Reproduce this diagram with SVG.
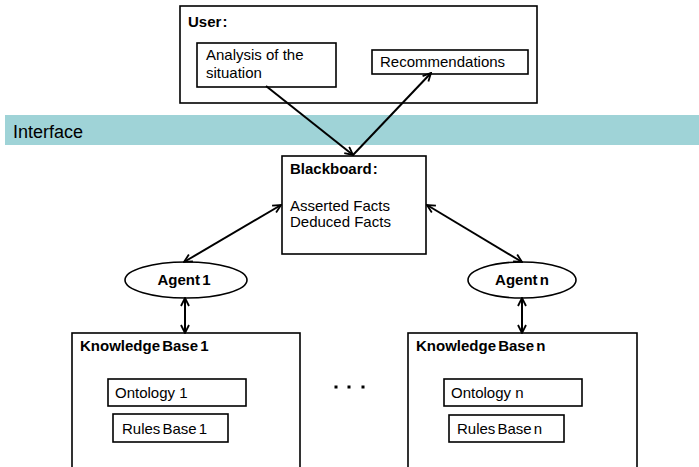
<svg xmlns="http://www.w3.org/2000/svg" width="699" height="467" viewBox="0 0 699 467">
<defs>
<marker id="ah" viewBox="0 0 10 10" refX="9" refY="5" markerWidth="10" markerHeight="10" markerUnits="userSpaceOnUse" orient="auto-start-reverse">
<path d="M1,1 L9,5 L1,9" fill="none" stroke="#000" stroke-width="1.8"/>
</marker>
<style>
.box{fill:#fff;stroke:#000;stroke-width:1.6}
.t{font-family:"Liberation Sans",Arial,sans-serif;font-size:15px;fill:#000}
.b{font-weight:bold;word-spacing:-2px}
.c{stroke:#000;stroke-width:2;fill:none}
</style>
</defs>
<rect width="699" height="467" fill="#fff"/>
<g id="interface">
<rect x="5" y="115" width="694" height="30" fill="#9fd3d7"/>
<text class="t" x="13" y="138" style="font-size:18px">Interface</text>
</g>
<g id="user">
<rect class="box" x="180" y="6" width="357" height="97"/>
<text class="t b" x="188" y="27" style="word-spacing:-3px">User :</text>
</g>
<g id="analysis">
<rect class="box" x="197" y="43" width="139" height="44"/>
<text class="t" x="206" y="60">Analysis of the</text>
<text class="t" x="206" y="78">situation</text>
</g>
<g id="recommendations">
<rect class="box" x="372" y="50" width="156" height="24"/>
<text class="t" x="380" y="67">Recommendations</text>
</g>
<g id="blackboard">
<rect class="box" x="282" y="156" width="144" height="98"/>
<text class="t b" x="290" y="174" style="word-spacing:-3px">Blackboard :</text>
<text class="t" x="290" y="211">Asserted Facts</text>
<text class="t" x="290" y="227">Deduced Facts</text>
</g>
<g id="agent1">
<ellipse class="box" cx="186" cy="280" rx="61" ry="18"/>
<text class="t b" x="184" y="285" text-anchor="middle">Agent 1</text>
</g>
<g id="agentn">
<ellipse class="box" cx="522" cy="280" rx="54" ry="18"/>
<text class="t b" x="522" y="285" text-anchor="middle">Agent n</text>
</g>
<g id="kb1">
<rect class="box" x="72" y="333" width="228" height="140"/>
<text class="t b" x="80" y="351">Knowledge Base 1</text>
</g>
<g id="ontology1">
<rect class="box" x="108" y="379" width="138" height="27"/>
<text class="t" x="115" y="398">Ontology 1</text>
</g>
<g id="rules1">
<rect class="box" x="113" y="414" width="115" height="28"/>
<text class="t" x="122" y="434" style="word-spacing:-2px">Rules Base 1</text>
</g>
<g id="kbn">
<rect class="box" x="408" y="333" width="229" height="140"/>
<text class="t b" x="416" y="351">Knowledge Base n</text>
</g>
<g id="ontologyn">
<rect class="box" x="444" y="379" width="138" height="27"/>
<text class="t" x="451" y="398">Ontology n</text>
</g>
<g id="rulesn">
<rect class="box" x="449" y="415" width="115" height="27"/>
<text class="t" x="457" y="434" style="word-spacing:-2px">Rules Base n</text>
</g>
<g id="dots" fill="#000">
<rect x="334.5" y="385.5" width="3" height="3"/>
<rect x="347.5" y="385.5" width="3" height="3"/>
<rect x="361.5" y="385.5" width="3" height="3"/>
</g>
<g id="connectors">
<line class="c" x1="266" y1="86" x2="353" y2="155" marker-end="url(#ah)"/>
<line class="c" x1="353" y1="155" x2="431" y2="73" marker-end="url(#ah)"/>
<line class="c" x1="281" y1="205" x2="184" y2="262" marker-start="url(#ah)" marker-end="url(#ah)"/>
<line class="c" x1="427" y1="205" x2="522" y2="262" marker-start="url(#ah)" marker-end="url(#ah)"/>
<line class="c" x1="185" y1="298" x2="185" y2="333" marker-start="url(#ah)" marker-end="url(#ah)"/>
<line class="c" x1="522" y1="298" x2="522" y2="333" marker-start="url(#ah)" marker-end="url(#ah)"/>
</g>
</svg>
